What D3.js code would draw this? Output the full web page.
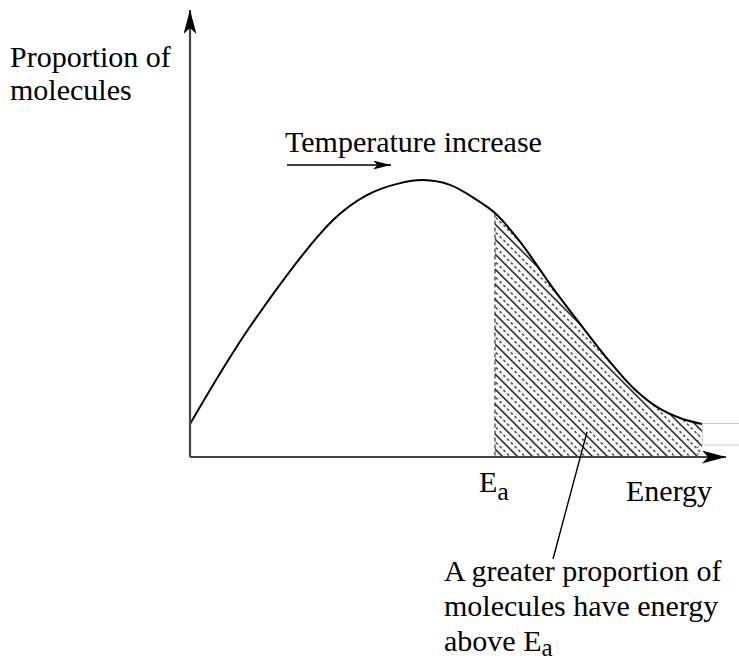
<!DOCTYPE html>
<html><head><meta charset="utf-8">
<script src="https://cdn.jsdelivr.net/npm/d3@7/dist/d3.min.js"></script>
<style>html,body{margin:0;padding:0;background:#fff}svg{display:block}</style>
</head><body>
<script>
// Data (energy in arbitrary units, proportion in arbitrary units)
const energy     = [0, 11.6, 26.7, 33.0, 39.2, 43.5, 48.5, 53.5, 56.9, 61.6, 67.7, 72.2, 78.2, 82.7, 87.1, 91.4, 95.5];
const proportion = [11, 44.5, 79, 87.3, 91.3, 92.3, 90.7, 85.7, 81.3, 71.7, 56.3, 45.7, 32, 23, 16.7, 13, 11];
const activationEnergy = 56.9;
const yLabel = ["Proportion of", "molecules"];
const xLabel = "Energy";
const tempLabel = "Temperature increase";
const noteLines = ["A greater proportion of", "molecules have energy", "above E"];

const W = 739, H = 662;
const svg = d3.select("body").append("svg").attr("width", W).attr("height", H)
  .attr("font-family", "'Liberation Serif', 'DejaVu Serif', serif");
const x = d3.scaleLinear().domain([0, 100]).range([190, 726]);
const y = d3.scaleLinear().domain([0, 100]).range([457, 157]);

const defs = svg.append("defs");
const P = 10.6;
const pat = defs.append("pattern").attr("id", "hatch").attr("patternUnits", "userSpaceOnUse")
  .attr("width", P).attr("height", P).attr("patternTransform", "rotate(-45)");
pat.append("line").attr("x1", 0.7).attr("y1", 0).attr("x2", 0.7).attr("y2", P).attr("stroke", "#000").attr("stroke-width", 1.4);
pat.append("line").attr("x1", 6).attr("y1", 1).attr("x2", 6).attr("y2", P).attr("stroke", "#111").attr("stroke-width", 1.3).attr("stroke-dasharray", "2.5,2.8");

function arrowMarker(id, w, h) {
  defs.append("marker").attr("id", id).attr("viewBox", `0 0 ${w} ${h}`).attr("refX", w).attr("refY", h/2)
    .attr("markerWidth", w).attr("markerHeight", h).attr("markerUnits", "userSpaceOnUse").attr("orient", "auto")
    .append("path").attr("d", `M0,0 L${w},${h/2} L0,${h} L${w*0.25},${h/2} Z`).attr("fill", "#000");
}
arrowMarker("axArrow", 24, 13);
arrowMarker("tArrow", 18, 9);

const pts = energy.map((e, i) => [e, proportion[i]]);
const line = d3.line().x(d => x(d[0])).y(d => y(d[1])).curve(d3.curveCatmullRom.alpha(0.5));

const tmp = svg.append("path").attr("d", line(pts)).attr("fill", "none");
const node = tmp.node(), L = node.getTotalLength();
const sampled = [];
for (let s = 0; s <= L; s += 1) { const p = node.getPointAtLength(s); sampled.push([p.x, p.y]); }
sampled.push([node.getPointAtLength(L).x, node.getPointAtLength(L).y]);
tmp.remove();
const xa = x(activationEnergy);
const shaded = sampled.filter(p => p[0] >= xa);
const yAtEa = shaded[0][1];
const poly = [[xa, y(0)], [xa, yAtEa], ...shaded, [shaded[shaded.length-1][0], y(0)]];
svg.append("path").attr("d", "M" + poly.map(p => p.join(",")).join("L") + "Z").attr("fill", "url(#hatch)");
svg.append("line").attr("x1", xa).attr("x2", xa).attr("y1", yAtEa).attr("y2", y(0))
  .attr("stroke", "#222").attr("stroke-width", 1.1).attr("stroke-dasharray", "4,3");
const xe = shaded[shaded.length-1][0];
svg.append("line").attr("x1", xe - 4).attr("x2", xe - 4).attr("y1", y(10)).attr("y2", y(0))
  .attr("stroke", "#333").attr("stroke-width", 1).attr("stroke-dasharray", "1.5,5");

// small box at right end
svg.append("rect").attr("x", xe + 0.5).attr("y", 423.5).attr("width", 40).attr("height", 21.5)
  .attr("fill", "#fff").attr("stroke", "#ccc").attr("stroke-width", 1);

// curve
svg.append("path").attr("d", line(pts)).attr("fill", "none").attr("stroke", "#000").attr("stroke-width", 2);

// axes
svg.append("line").attr("x1", x(0)).attr("y1", y(0)).attr("x2", x(0)).attr("y2", 10)
  .attr("stroke", "#444").attr("stroke-width", 2.2).attr("marker-end", "url(#axArrow)");
svg.append("line").attr("x1", x(0)).attr("y1", y(0)).attr("x2", x(100)).attr("y2", y(0))
  .attr("stroke", "#444").attr("stroke-width", 2.2).attr("marker-end", "url(#axArrow)");

// texts
const fs = 30;
yLabel.forEach((t, i) => svg.append("text").attr("x", 10).attr("y", 67 + i * 33).attr("font-size", fs).text(t));
svg.append("text").attr("x", 285).attr("y", 152).attr("font-size", fs).text(tempLabel);
svg.append("line").attr("x1", 287).attr("x2", 391).attr("y1", 165).attr("y2", 165)
  .attr("stroke", "#000").attr("stroke-width", 1.6).attr("marker-end", "url(#tArrow)");

const ea = svg.append("text").attr("x", 479).attr("y", 492).attr("font-size", fs);
ea.append("tspan").text("E");
ea.append("tspan").attr("dy", 8).attr("font-size", 26).text("a");
svg.append("text").attr("x", 626).attr("y", 501).attr("font-size", fs).text(xLabel);

svg.append("line").attr("x1", 587).attr("y1", 432).attr("x2", 553).attr("y2", 559).attr("stroke", "#000").attr("stroke-width", 1.4);

noteLines.forEach((t, i) => {
  const tx = svg.append("text").attr("x", 444).attr("y", 581 + i * 35).attr("font-size", fs).text(t);
  if (i === 2) tx.append("tspan").attr("dy", 5).attr("font-size", 25).text("a");
});
</script>
</body></html>
